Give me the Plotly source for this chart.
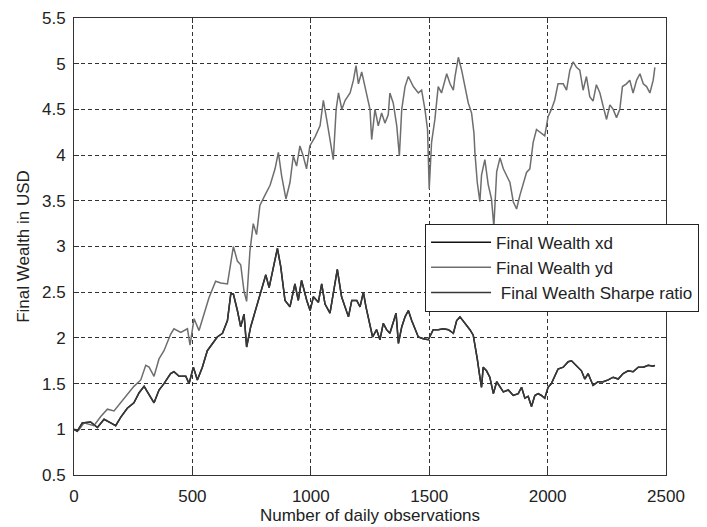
import plotly.graph_objects as go

# ---- data ----
obs_yd = [0, 20, 42, 84, 113, 141, 169, 197, 225, 253, 282, 303, 317, 338, 359, 380, 408, 422, 451, 479,
          490, 507, 528, 549, 570, 598, 620, 648, 662, 673, 690, 704, 718, 729, 743, 757, 771, 785, 806, 828,
          849, 863, 877, 895, 912, 926, 940, 954, 968, 982, 996, 1018, 1039, 1053, 1067, 1081, 1095, 1107, 1117, 1131,
          1145, 1166, 1180, 1191, 1201, 1215, 1229, 1250, 1257, 1271, 1285, 1299, 1313, 1327, 1334, 1348, 1363, 1374, 1384, 1398,
          1412, 1433, 1454, 1468, 1482, 1493, 1500, 1510, 1524, 1538, 1552, 1574, 1588, 1602, 1609, 1623, 1637, 1651, 1665, 1679,
          1689, 1693, 1703, 1714, 1721, 1735, 1749, 1763, 1773, 1785, 1799, 1813, 1827, 1841, 1855, 1869, 1883, 1897, 1911, 1925,
          1939, 1953, 1974, 1988, 2002, 2016, 2030, 2044, 2066, 2080, 2094, 2108, 2122, 2136, 2150, 2164, 2178, 2192, 2206, 2221,
          2235, 2249, 2263, 2277, 2291, 2305, 2316, 2333, 2347, 2361, 2376, 2390, 2404, 2418, 2432, 2446, 2453]
wealth_yd = [1.00, 0.99, 1.07, 1.04, 1.14, 1.22, 1.20, 1.29, 1.38, 1.47, 1.54, 1.70, 1.68, 1.58, 1.77, 1.86, 2.04, 2.10, 2.06, 2.10,
             1.92, 2.21, 2.08, 2.26, 2.44, 2.62, 2.60, 2.59, 2.84, 3.00, 2.84, 2.80, 2.51, 2.40, 2.95, 3.25, 3.13, 3.45, 3.56, 3.67,
             3.85, 4.03, 3.77, 3.52, 3.70, 3.99, 3.88, 4.10, 3.99, 3.85, 4.10, 4.20, 4.32, 4.60, 4.39, 4.17, 3.95, 4.50, 4.68, 4.50,
             4.60, 4.68, 4.82, 4.98, 4.78, 4.91, 4.75, 4.50, 4.17, 4.50, 4.32, 4.46, 4.35, 4.44, 4.68, 4.57, 4.32, 3.99, 4.50, 4.75,
             4.86, 4.75, 4.68, 4.71, 4.50, 4.28, 3.63, 4.14, 4.39, 4.75, 4.68, 4.89, 4.78, 4.71, 4.86, 5.07, 4.93, 4.75, 4.57, 4.46,
             4.24, 4.03, 3.70, 3.49, 3.78, 3.95, 3.68, 3.52, 3.22, 3.82, 3.97, 3.85, 3.78, 3.70, 3.49, 3.41, 3.56, 3.70, 3.81, 3.85,
             4.14, 4.28, 4.24, 4.21, 4.42, 4.50, 4.60, 4.78, 4.78, 4.71, 4.93, 5.02, 4.96, 4.93, 4.71, 4.86, 4.64, 4.59, 4.77, 4.68,
             4.53, 4.39, 4.55, 4.50, 4.41, 4.50, 4.75, 4.78, 4.82, 4.68, 4.82, 4.89, 4.78, 4.75, 4.68, 4.82, 4.96]

obs_sharpe = [0, 14, 35, 70, 99, 127, 155, 176, 197, 225, 253, 275, 296, 317, 338, 359, 380, 408, 422, 444,
              472, 486, 504, 521, 542, 563, 584, 605, 627, 648, 662, 673, 690, 704, 718, 729, 746, 767, 788, 810,
              824, 845, 859, 873, 891, 912, 933, 947, 961, 983, 997, 1011, 1032, 1046, 1060, 1081, 1102, 1112, 1130, 1144,
              1159, 1173, 1194, 1208, 1222, 1233, 1247, 1261, 1278, 1292, 1306, 1320, 1334, 1348, 1360, 1370, 1384, 1398, 1412, 1426,
              1440, 1454, 1475, 1496, 1517, 1538, 1560, 1581, 1602, 1616, 1630, 1651, 1672, 1686, 1693, 1703, 1714, 1721, 1728, 1742,
              1756, 1771, 1785, 1799, 1813, 1834, 1855, 1876, 1890, 1904, 1918, 1932, 1946, 1960, 1974, 1988, 2002, 2016, 2030, 2044,
              2066, 2087, 2101, 2122, 2143, 2157, 2171, 2192, 2213, 2235, 2256, 2277, 2298, 2319, 2340, 2361, 2383, 2404, 2425, 2446, 2453]
wealth_sharpe = [1.00, 0.98, 1.07, 1.08, 1.02, 1.11, 1.07, 1.04, 1.13, 1.23, 1.29, 1.40, 1.47, 1.38, 1.29, 1.43, 1.50, 1.61, 1.63, 1.58,
                 1.58, 1.50, 1.68, 1.54, 1.68, 1.86, 1.94, 2.01, 2.05, 2.19, 2.48, 2.48, 2.30, 2.12, 2.26, 1.90, 2.12, 2.30, 2.48, 2.69,
                 2.55, 2.80, 2.98, 2.78, 2.41, 2.34, 2.59, 2.41, 2.63, 2.41, 2.30, 2.45, 2.39, 2.59, 2.37, 2.27, 2.59, 2.75, 2.45, 2.34,
                 2.23, 2.41, 2.41, 2.34, 2.50, 2.34, 2.16, 2.01, 2.09, 1.98, 2.16, 2.09, 2.05, 2.16, 2.27, 1.94, 2.12, 2.23, 2.30, 2.19,
                 2.09, 2.01, 1.99, 1.98, 2.09, 2.09, 2.10, 2.09, 2.05, 2.19, 2.23, 2.16, 2.09, 2.03, 1.90, 1.77, 1.57, 1.46, 1.68, 1.64,
                 1.57, 1.39, 1.52, 1.46, 1.41, 1.43, 1.37, 1.39, 1.46, 1.34, 1.36, 1.25, 1.37, 1.39, 1.37, 1.34, 1.46, 1.50, 1.59, 1.66,
                 1.68, 1.74, 1.75, 1.70, 1.64, 1.55, 1.61, 1.48, 1.52, 1.52, 1.54, 1.57, 1.55, 1.61, 1.64, 1.63, 1.68, 1.68, 1.70, 1.69, 1.70]

# the xd series lies underneath the Sharpe-ratio series in the picture
obs_xd = obs_sharpe
wealth_xd = wealth_sharpe

series_names = ["Final Wealth xd", "Final Wealth yd", " Final Wealth Sharpe ratio"]
x_ticks = [0, 500, 1000, 1500, 2000, 2500]
y_ticks = [0.5, 1, 1.5, 2, 2.5, 3, 3.5, 4, 4.5, 5, 5.5]

FONT = "Liberation Sans, Arial, sans-serif"
FS = 17

fig = go.Figure()
fig.add_trace(go.Scatter(x=obs_xd, y=wealth_xd, mode="lines", name=series_names[0],
                         line=dict(color="#111111", width=1.5)))
fig.add_trace(go.Scatter(x=obs_yd, y=wealth_yd, mode="lines", name=series_names[1],
                         line=dict(color="#6e6e6e", width=1.5)))
fig.add_trace(go.Scatter(x=obs_sharpe, y=wealth_sharpe, mode="lines", name=series_names[2],
                         line=dict(color="#383838", width=1.5)))

axis_common = dict(
    showline=True, linecolor="#333333", linewidth=1, mirror="ticks",
    ticks="inside", ticklen=5, tickcolor="#333333",
    showgrid=True, gridcolor="#333333", gridwidth=1, griddash="4px,3px",
    zeroline=False, ticklabeloverflow="allow",
    tickfont=dict(family=FONT, size=FS, color="#222222"),
    title_font=dict(family=FONT, size=FS, color="#222222"),
)

fig.update_xaxes(range=[0, 2500], tickvals=x_ticks,
                 title_text="Number of daily observations", title_standoff=0,
                 ticklabelstandoff=6, **axis_common)
fig.update_yaxes(range=[0.5, 5.5], tickvals=y_ticks,
                 title_text="Final Wealth in USD", title_standoff=8,
                 ticklabelstandoff=4, **axis_common)

# the page body keeps its default 8px margin, so the figure is sized to fill the rest of the window
fig.update_layout(
    width=699, height=519,
    margin=dict(l=66, r=41, t=10, b=52, autoexpand=False),
    paper_bgcolor="white", plot_bgcolor="white",
    font=dict(family=FONT, size=FS, color="#222222"),
    showlegend=True,
    legend=dict(x=0.593, y=0.55, xanchor="left", yanchor="top",
                bgcolor="white", bordercolor="#222222", borderwidth=1,
                font=dict(family=FONT, size=FS, color="#222222"),
                itemwidth=60, tracegroupgap=0),
)

fig.write_html("out.html")
